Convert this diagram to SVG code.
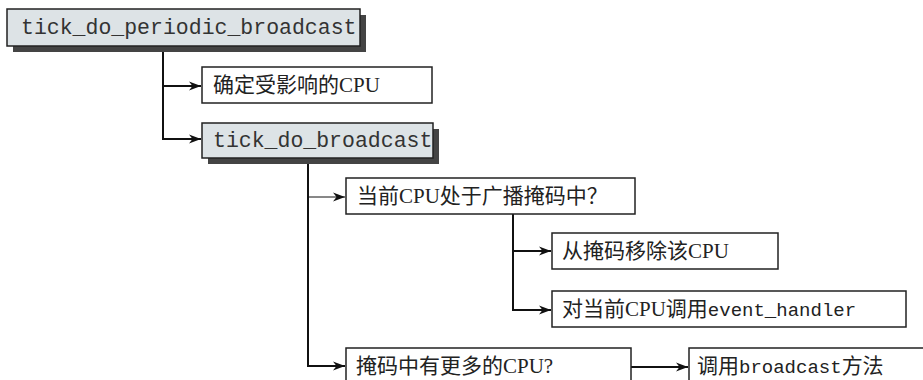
<svg xmlns="http://www.w3.org/2000/svg" width="923" height="380" viewBox="0 0 923 380">
<style>
.box{fill:#fff;stroke:#222;stroke-width:1.5}
.hdr{fill:#dde3e6;stroke:#222;stroke-width:1.5}
.shadow{fill:#444}
.mono{font-family:"Liberation Mono","DejaVu Sans Mono",monospace;font-size:21.5px;fill:#333}
.lbl{font-family:"Liberation Serif","Noto Sans CJK SC",serif;font-size:21px;fill:#222}
.code{font-family:"Liberation Mono","DejaVu Sans Mono",monospace;font-size:19px}
.wire{fill:none;stroke:#111;stroke-width:2}
.thin{fill:none;stroke:#111;stroke-width:1}
</style>
<defs>
<marker id="ah" markerUnits="userSpaceOnUse" markerWidth="14" markerHeight="10" refX="12" refY="5" orient="auto">
<path d="M0,0.5 L12,5 L0,9.5 L3.5,5 z" fill="#111"/>
</marker>
</defs>
<g id="connectors">
<path class="wire" d="M163,46 V139 H201" marker-end="url(#ah)"/>
<path class="wire" d="M163,86 H201" marker-end="url(#ah)"/>
<path class="wire" d="M308,158 V366 H345" marker-end="url(#ah)"/>
<path class="thin" d="M308,197 H345" marker-end="url(#ah)"/>
<path class="wire" d="M513,214 V310 H551" marker-end="url(#ah)"/>
<path class="wire" d="M513,251 H551" marker-end="url(#ah)"/>
<path class="wire" d="M631,367 H688" marker-end="url(#ah)"/>
</g>
<g id="n1">
<rect class="shadow" x="13" y="15" width="353" height="37"/>
<rect class="hdr" x="7" y="9" width="353" height="37"/>
<text class="mono" x="21" y="34">tick_do_periodic_broadcast</text>
</g>
<g id="n2">
<rect class="box" x="202" y="67" width="230" height="36"/>
<text class="lbl" x="213" y="92">确定受影响的CPU</text>
</g>
<g id="n3">
<rect class="shadow" x="208" y="129" width="231" height="35"/>
<rect class="hdr" x="202" y="123" width="231" height="35"/>
<text class="mono" x="213" y="147" font-size="21">tick_do_broadcast</text>
</g>
<g id="n4">
<rect class="box" x="346" y="178" width="289" height="36"/>
<text class="lbl" x="357" y="203">当前CPU处于广播掩码中？</text>
</g>
<g id="n5">
<rect class="box" x="552" y="233" width="226" height="36"/>
<text class="lbl" x="562" y="258">从掩码移除该CPU</text>
</g>
<g id="n6">
<rect class="box" x="552" y="291" width="354" height="36"/>
<text class="lbl" x="562" y="316">对当前CPU调用<tspan class="code">event_handler</tspan></text>
</g>
<g id="n7">
<rect class="box" x="346" y="348" width="285" height="40"/>
<text class="lbl" x="356" y="373">掩码中有更多的CPU?</text>
</g>
<g id="n8">
<rect class="box" x="689" y="348" width="240" height="40"/>
<text class="lbl" x="697" y="373">调用<tspan class="code">broadcast</tspan>方法</text>
</g>
</svg>
